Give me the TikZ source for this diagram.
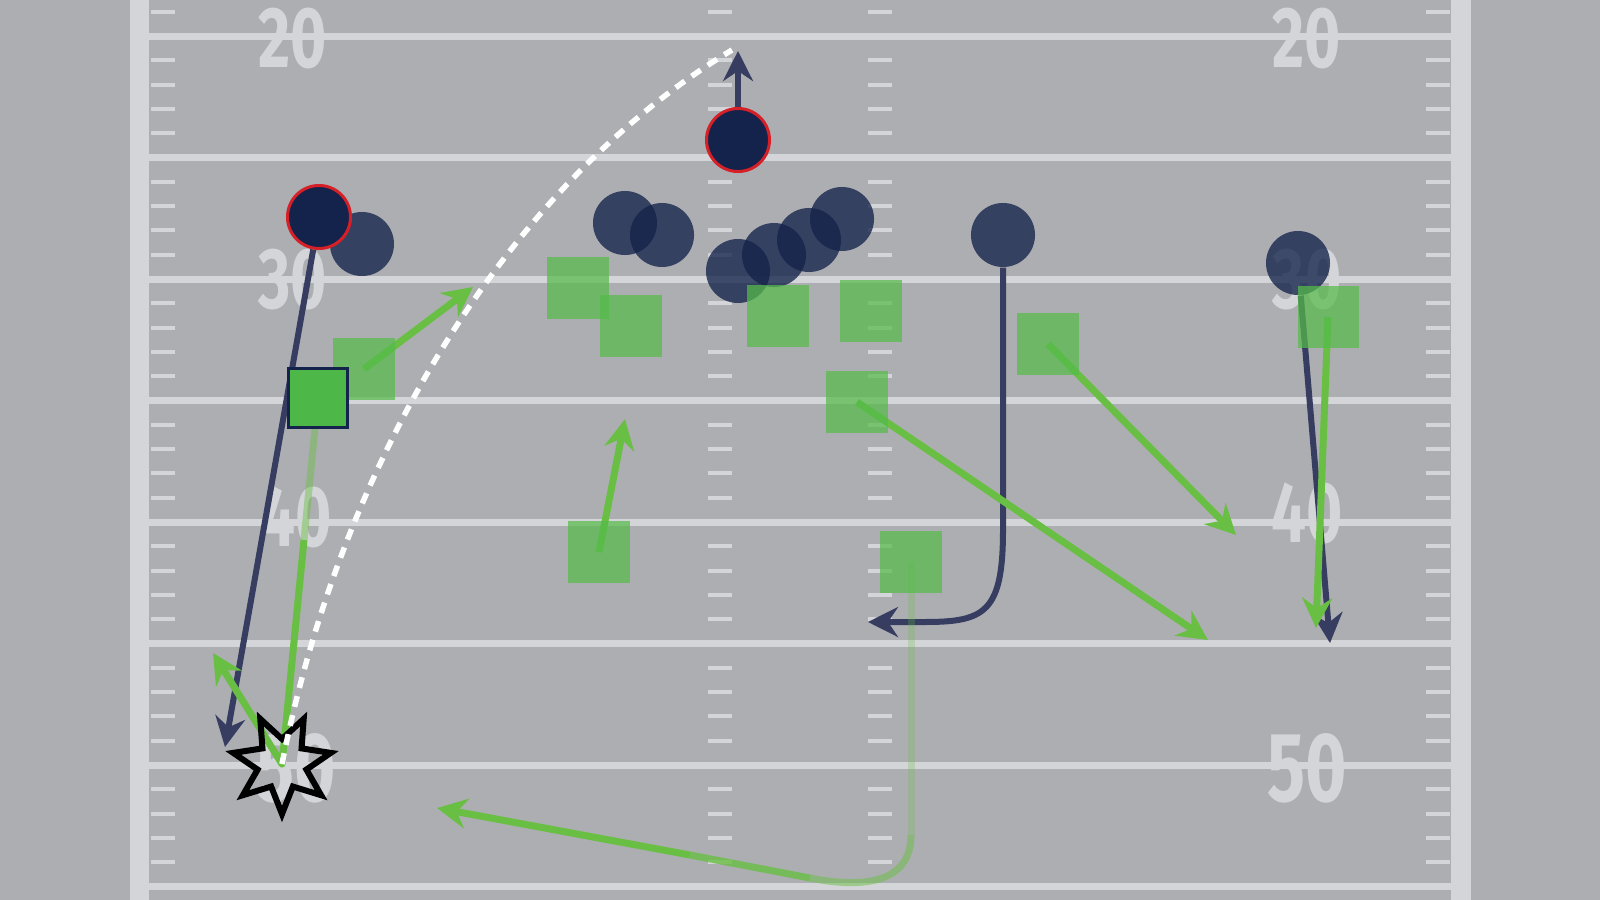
\documentclass[tikz,border=0pt]{standalone}
\usepackage{fontspec}
\usetikzlibrary{arrows.meta, shapes.geometric}
\newfontfamily\yardfont{Fira Sans}
\definecolor{turf}{HTML}{ADAEB2}
\definecolor{chalk}{HTML}{D4D5D8}
\definecolor{navy}{HTML}{14234B}
\definecolor{routenavy}{HTML}{363D60}
\definecolor{alertred}{HTML}{D52027}
\definecolor{padgreen}{HTML}{55BB4A}
\definecolor{keygreen}{HTML}{4DB848}
\definecolor{routegreen}{HTML}{69BF43}
\pgfdeclarelayer{field}
\pgfdeclarelayer{routes}
\pgfsetlayers{field,routes,main}
\tikzset{
	player/.style={circle, inner sep=0pt, minimum size=6.4mm, fill=navy, fill opacity=0.78},
	keyplayer/.style={circle, draw=alertred, line width=0.3mm, inner sep=0pt, minimum size=6.3mm, fill=navy},
	blocker/.style={rectangle, inner sep=0pt, minimum size=6.1mm, fill=padgreen, fill opacity=0.72},
	keyblocker/.style={rectangle, draw=navy, line width=0.3mm, inner sep=0pt, minimum size=5.9mm, fill=keygreen},
	% yard numbers
	yardnum/.style={text=chalk, inner sep=0pt, xscale=0.72, transform shape, font=\yardfont\bfseries\fontsize{24.5}{24.5}\selectfont},
	yardbig/.style={yardnum, font=\yardfont\bfseries\fontsize{28}{28}\selectfont},
	navyroute/.style={draw=routenavy, line width=0.6mm, line join=round},
	greenroute/.style={draw=routegreen, line width=0.7mm, line join=round},
	tip/.style={-{Stealth[length=3mm, width=3mm, inset=1mm]}},
}
\begin{document}
\begin{tikzpicture}[x=0.01cm, y=-0.01cm]
	\useasboundingbox (0,0) rectangle (1600,900);
	
	% field markings
	\begin{pgfonlayer}{field}
		\fill [turf] (0,0) rectangle (1600,900);
		\fill [chalk] (130,0) rectangle (149,900);
		\fill [chalk] (1451,0) rectangle (1471,900);
		\foreach \i in {0,...,7}
			\fill [chalk] (149,{36+121.5*\i-3.5}) rectangle (1451,{36+121.5*\i+3.5});
		\foreach \i in {-1,...,6}
			\foreach \j in {1,...,4}
				\foreach \hx in {151,708,868,1426}
					\fill [chalk] ({\hx},{36+121.5*\i+24.3*\j-2}) rectangle ({\hx+24},{36+121.5*\i+24.3*\j+2});
		
		\node (n20l) [yardnum] at (293,39) {20};
		\node (n30l) [yardnum] at (293,280) {30};
		\node (n40l) [yardnum] at (296,517) {40};
		\node (n50l) [yardbig] at (296,768) {50};
		\node (n20r) [yardnum] at (1307,39) {20};
		\node (n30r) [yardnum] at (1307,280) {30};
		\node (n40r) [yardnum] at (1307,513) {40};
		\node (n50r) [yardbig] at (1307,768) {50};
	\end{pgfonlayer}
	
	% defense
	\node (lt2) [player] at (362,244) {};
	\node (d1) [player] at (625,223) {};
	\node (d2) [player] at (662,235) {};
	\node (d3) [player] at (738,271) {};
	\node (d4) [player] at (774,255) {};
	\node (d5) [player] at (809,240) {};
	\node (d6) [player] at (842,219) {};
	\node (jr) [player] at (1003,235) {};
	\node (rt) [player] at (1298,263) {};
	
	% offense
	\node (g1) [blocker] at (578,288) {};
	\node (g2) [blocker] at (631,326) {};
	\node (g3) [blocker] at (778,316) {};
	\node (g4) [blocker] at (871,311) {};
	\node (g5) [blocker] at (1048,344) {};
	\node (g6) [blocker] at (857,402) {};
	\node (g7) [blocker] at (911,562) {};
	\node (g8) [blocker] at (364,369) {};
	\node (g9) [blocker] at (599,552) {};
	\node (g10) [blocker] at (1328,317) {};
	
	\node (sack) [star, star points=7, star point ratio=2, shape border rotate=180, draw=black, line width=0.6mm, inner sep=0pt, minimum size=1.0cm] at (282,764) {};
	\draw [white, line width=0.55mm, dash pattern=on 1.1mm off 0.85mm] (sack.center) .. controls (340,470) and (500,190) .. (732,50);
	
	\node (kb) [keyblocker] at (318,398) {};
	\node (lt) [keyplayer] at (319,217) {};
	\node (qb) [keyplayer] at (738,140) {};
	
	\coordinate (qbEnd) at (738,51);
	\coordinate (ltEnd) at (225,747);
	\coordinate (rtEnd) at (1330,643);
	\coordinate (jrBreak) at (1003,530);
	\coordinate (jrTurn) at (925,622);
	\coordinate (jrEnd) at (868,622);
	\coordinate (g5End) at (1236,535);
	\coordinate (g6End) at (1208,640);
	\coordinate (g8End) at (473,287);
	\coordinate (g9End) at (625,419);
	\coordinate (g10End) at (1316,628);
	\coordinate (g7Low) at (911,835);
	\coordinate (g7Bend) at (810,878);
	\coordinate (g7Mid) at (690,855);
	\coordinate (g7End) at (437,808);
	\coordinate (kbMid) at (304,540);
	\coordinate (scrEnd) at (213,653);
	
	% routes, under the players
	\begin{pgfonlayer}{routes}
		\begin{scope}[navyroute, tip]
			\draw (rt) -- (rtEnd);
			\draw (jr) -- (jrBreak) .. controls (1003,612) and (985,622) .. (jrTurn) -- (jrEnd);
			\draw (lt) -- (ltEnd);
			\draw (qb) -- (qbEnd);
		\end{scope}
		\begin{scope}[greenroute]
			\draw [tip] (g5.center) -- (g5End);
			\draw [tip] (g6.center) -- (g6End);
			\draw [tip] (g8.center) -- (g8End);
			\draw [tip] (g9.center) -- (g9End);
			\draw [tip] (g10.center) -- (g10End);
			\draw [opacity=0.25] (g7.center) -- (g7Low);
			\draw [opacity=0.5] (g7Low) .. controls (911,885) and (860,888) .. (g7Bend);
			\draw [opacity=0.8] (g7Bend) -- (g7Mid);
			\draw [tip] (g7Mid) -- (g7End);
			\draw [opacity=0.45] (kb.center) -- (kbMid);
			\draw [tip] (kbMid) -- (sack.center) -- (scrEnd);
		\end{scope}
	\end{pgfonlayer}
\end{tikzpicture}
\end{document}
